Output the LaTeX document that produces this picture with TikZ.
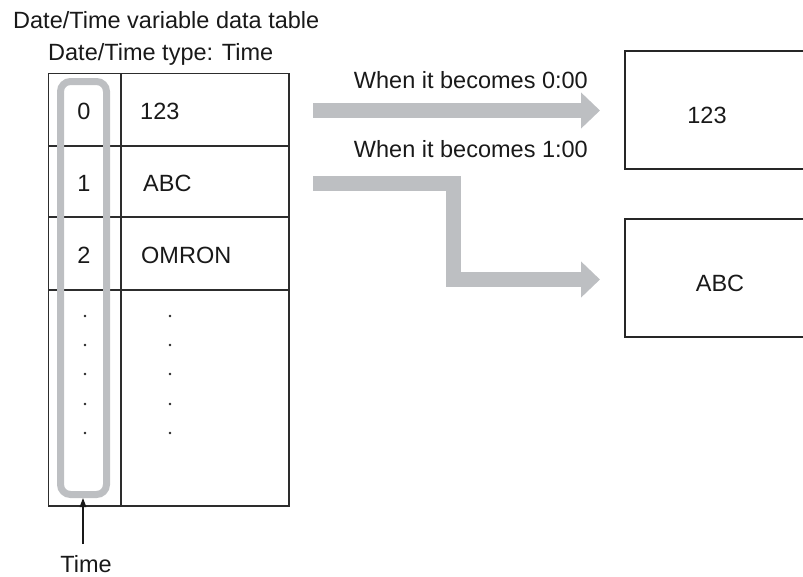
\documentclass[tikz,border=0pt]{standalone}
\usepackage{fontspec}
\setmainfont{Liberation Sans}
\usetikzlibrary{arrows.meta}
\definecolor{bargray}{RGB}{189,191,194}
\definecolor{linegray}{RGB}{45,45,45}
\tikzset{
  txt/.style={inner sep=0pt, font=\fontsize{23.5}{28}\selectfont, text=black!90},
  tabline/.style={draw=linegray, line width=1.2pt},
  boxline/.style={draw=black!85, line width=2.4pt},
  bigarrow/.style={draw=bargray, line width=15pt, line join=miter,
    -{Triangle[length=19pt,width=35pt]}},
  timecolumn/.style={draw=bargray, line width=7pt, rounded corners=10pt,
    minimum width=46pt, minimum height=413pt, inner sep=0pt},
  dotmark/.style={circle, fill=black!85, inner sep=0pt, minimum size=2.8pt},
  pointer/.style={draw=black!90, line width=1.2pt, -{Triangle[length=9pt,width=6.5pt]}}
}
\begin{document}
\begin{tikzpicture}[x=1pt,y=-1pt]
\useasboundingbox (0,0) rectangle (803,576);

% titles
\node[txt, anchor=base west] (title) at (13,28) {Date/Time variable data table};
\node[txt, anchor=base west] (subtitle) at (48,60) {Date/Time type: Time};

% table
\draw[tabline] (48.5,73.5) rectangle (289,506);
\draw[tabline] (121,73.5) -- (121,506);
\draw[tabline] (48.5,146) -- (289,146);
\draw[tabline] (48.5,217) -- (289,217);
\draw[tabline] (48.5,290) -- (289,290);

% time column highlight
\node[timecolumn] (timecol) at (83.5,288) {};

% cell texts
\node[txt, anchor=base] (k0) at (84,119) {0};
\node[txt, anchor=base west] (v0) at (140,119) {123};
\node[txt, anchor=base] (k1) at (84,191) {1};
\node[txt, anchor=base west] (v1) at (143,191) {ABC};
\node[txt, anchor=base] (k2) at (84,263) {2};
\node[txt, anchor=base west] (v2) at (141,263) {OMRON};

% dots
\foreach \i/\yy in {1/316,2/345,3/374,4/404,5/433}{
  \node[dotmark] (kd\i) at (85,\yy) {};
  \node[dotmark] (vd\i) at (170,\yy) {};
}

% Time label and pointer
\node[txt, anchor=base] (timelbl) at (86,572) {Time};
\coordinate (tp) at (83,544);
\draw[pointer] (tp) -- (timecol.south -| tp);

% output boxes
\draw[boxline] (806,51) -- (625,51) -- (625,169) -- (806,169);
\draw[boxline] (806,219) -- (625,219) -- (625,337) -- (806,337);
\node[txt, anchor=base] (o1) at (707,123) {123};
\node[txt, anchor=base] (o2) at (720,291) {ABC};

% arrows
\coordinate (a1s) at (313,110.5);
\coordinate (a1e) at (600,110.5);
\coordinate (a2s) at (313,183);
\coordinate (a2m1) at (453.5,183);
\coordinate (a2m2) at (453.5,279.5);
\coordinate (a2e) at (600,279.5);
\draw[bigarrow] (a1s) -- (a1e);
\draw[bigarrow] (a2s) -- (a2m1) -- (a2m2) -- (a2e);

\node[txt, anchor=base east] (l1) at (588,88) {When it becomes 0:00};
\node[txt, anchor=base east] (l2) at (588,157) {When it becomes 1:00};
\end{tikzpicture}
\end{document}
